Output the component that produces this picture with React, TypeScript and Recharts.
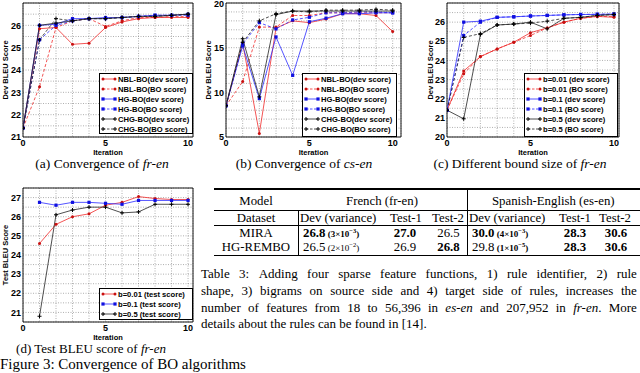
import React from 'react';
import { LineChart, Line, XAxis, YAxis, CartesianGrid, ReferenceArea, Legend } from 'recharts';

const iterations = [0, 1, 2, 3, 4, 5, 6, 7, 8, 9, 10];
const testIterations = [1, 2, 3, 4, 5, 6, 7, 8, 9, 10];
const xGrid = [0, 1, 2, 3, 4, 5, 6, 7, 8, 9, 10];
const xLabels = [0, 5, 10];

// (a) convergence of fr-en
const aNblDev = [21.4, 25.85, 25.9, 25.15, 25.2, 25.9, 26.15, 26.3, 26.35, 26.35, 26.35];
const aNblBo = [21.4, 23.25, 25.9, 26.2, 26.3, 25.95, 26.2, 26.35, 26.35, 26.4, 26.4];
const aHgDev = [21.4, 26.0, 26.05, 26.3, 26.3, 26.35, 26.35, 26.4, 26.45, 26.45, 26.5];
const aHgBo = [21.4, 25.35, 26.0, 26.2, 26.3, 26.3, 26.35, 26.4, 26.45, 26.45, 26.45];
const aChgDev = [21.4, 26.0, 26.1, 26.2, 26.3, 26.3, 26.35, 26.4, 26.4, 26.45, 26.5];
const aChgBo = [21.4, 25.35, 26.3, 26.2, 26.3, 26.3, 26.35, 26.4, 26.4, 26.45, 26.5];
const aYGrid = [21, 21.5, 22, 22.5, 23, 23.5, 24, 24.5, 25, 25.5, 26, 26.5, 27];
const aYLabels = [21, 22, 23, 24, 25, 26];

// (b) convergence of cs-en
const bNblDev = [8.5, 15.5, 5.4, 17.2, 18.0, 17.8, 18.2, 18.8, 18.8, 18.6, 16.8];
const bNblBo = [8.5, 11.2, 17.3, 17.3, 18.6, 18.6, 18.9, 18.9, 18.9, 18.9, 18.9];
const bHgDev = [8.5, 15.2, 9.3, 16.2, 11.9, 17.9, 18.3, 18.8, 18.8, 18.9, 18.9];
const bHgBo = [8.5, 15.4, 17.8, 17.1, 18.1, 18.4, 18.9, 18.9, 19.0, 19.0, 18.9];
const bChgDev = [8.5, 16.0, 9.5, 18.7, 19.1, 19.1, 19.1, 19.1, 19.1, 19.1, 19.1];
const bChgBo = [8.5, 15.6, 18.0, 18.8, 19.1, 19.0, 19.2, 19.2, 19.2, 19.3, 19.2];
const bYGrid = [5, 6, 7, 8, 9, 10, 11, 12, 13, 14, 15, 16, 17, 18, 19, 20];
const bYLabels = [5, 10, 15, 20];

// (c) different bound size of fr-en
const cB001Dev = [21.4, 23.45, 24.2, 24.6, 24.95, 25.45, 25.7, 26.0, 26.2, 26.3, 26.25];
const cB001Bo = [21.4, 23.3, 24.2, 24.6, 24.95, 25.3, 25.7, 26.0, 26.2, 26.3, 26.3];
const cB01Dev = [21.4, 26.0, 26.05, 26.25, 26.28, 26.32, 26.35, 26.38, 26.4, 26.4, 26.42];
const cB01Bo = [21.4, 25.3, 26.0, 26.25, 26.28, 26.32, 26.35, 26.38, 26.4, 26.42, 26.42];
const cB05Dev = [21.4, 20.95, 25.35, 25.85, 25.9, 26.0, 25.65, 26.2, 26.25, 26.35, 26.4];
const cB05Bo = [21.4, 25.2, 25.4, 25.85, 25.9, 25.95, 26.05, 26.2, 26.25, 26.35, 26.4];
const cYGrid = [20, 20.5, 21, 21.5, 22, 22.5, 23, 23.5, 24, 24.5, 25, 25.5, 26, 26.5, 27];
const cYLabels = [20, 21, 22, 23, 24, 25, 26];

// (d) test BLEU of fr-en
const dB001 = [24.6, 25.6, 26.0, 26.15, 26.6, 26.75, 27.05, 26.95, 26.9, 26.9];
const dB01 = [26.75, 26.6, 26.75, 26.75, 26.7, 26.65, 26.85, 26.85, 26.85, 26.85];
const dB05 = [20.8, 26.1, 26.35, 26.5, 26.5, 26.2, 26.25, 26.65, 26.65, 26.65];
const dYGrid = [20.5, 21, 21.5, 22, 22.5, 23, 23.5, 24, 24.5, 25, 25.5, 26, 26.5, 27, 27.5];
const dYLabels = [21, 22, 23, 24, 25, 26, 27];

// table 3
const tModels = ['MIRA', 'HG-REMBO'];
const tFrDev = ['26.8', '26.5'];
const tFrVar = [['3', '−3'], ['2', '−2']];
const tFrTest1 = ['27.0', '26.9'];
const tFrTest2 = ['26.5', '26.8'];
const tEsDev = ['30.0', '29.8'];
const tEsVar = [['4', '−3'], ['1', '−5']];
const tEsTest1 = ['28.3', '28.3'];
const tEsTest2 = ['30.6', '30.6'];
// bold flags: frDev, frVar, frT1, frT2, esDev, esVar, esT1, esT2
const tBold = [
  [true, true, true, false, true, true, true, true],
  [false, false, false, true, false, true, true, true],
];

const RED = '#f02a2a';
const BLUE = '#2a2aff';
const BLACK = '#222';

type Mark = 'circle' | 'square' | 'plus';
type Series = { key: string; name: string; values: number[]; color: string; dash?: boolean; mark: Mark };

const markColor = (c: string) => (c === RED ? '#c81010' : c === BLUE ? '#1010e0' : '#000');

function marker(mark: Mark, cx: number, cy: number, color: string, key?: any) {
  const c = markColor(color);
  if (mark === 'circle') return <circle key={key} cx={cx} cy={cy} r={1.5} fill={c} />;
  if (mark === 'square') return <rect key={key} x={cx - 1.6} y={cy - 1.6} width={3.2} height={3.2} fill={c} />;
  return <path key={key} d={`M${cx - 2},${cy}h4M${cx},${cy - 2}v4`} stroke={c} strokeWidth={1} />;
}

const seriesA: Series[] = [
  { key: 'nblDev', name: 'NBL-BO(dev score)', values: aNblDev, color: RED, mark: 'circle' },
  { key: 'nblBo', name: 'NBL-BO(BO score)', values: aNblBo, color: RED, dash: true, mark: 'circle' },
  { key: 'hgDev', name: 'HG-BO(dev score)', values: aHgDev, color: BLUE, mark: 'square' },
  { key: 'hgBo', name: 'HG-BO(BO score)', values: aHgBo, color: BLUE, dash: true, mark: 'square' },
  { key: 'chgDev', name: 'CHG-BO(dev score)', values: aChgDev, color: BLACK, mark: 'plus' },
  { key: 'chgBo', name: 'CHG-BO(BO score)', values: aChgBo, color: BLACK, dash: true, mark: 'plus' },
];
const seriesB: Series[] = [
  { key: 'nblDev', name: 'NBL-BO(dev score)', values: bNblDev, color: RED, mark: 'circle' },
  { key: 'nblBo', name: 'NBL-BO(BO score)', values: bNblBo, color: RED, dash: true, mark: 'circle' },
  { key: 'hgDev', name: 'HG-BO(dev score)', values: bHgDev, color: BLUE, mark: 'square' },
  { key: 'hgBo', name: 'HG-BO(BO score)', values: bHgBo, color: BLUE, dash: true, mark: 'square' },
  { key: 'chgDev', name: 'CHG-BO(dev score)', values: bChgDev, color: BLACK, mark: 'plus' },
  { key: 'chgBo', name: 'CHG-BO(BO score)', values: bChgBo, color: BLACK, dash: true, mark: 'plus' },
];
const seriesC: Series[] = [
  { key: 'b001Dev', name: 'b=0.01 (dev score)', values: cB001Dev, color: RED, mark: 'circle' },
  { key: 'b001Bo', name: 'b=0.01 (BO score)', values: cB001Bo, color: RED, dash: true, mark: 'circle' },
  { key: 'b01Dev', name: 'b=0.1 (dev score)', values: cB01Dev, color: BLUE, mark: 'square' },
  { key: 'b01Bo', name: 'b=0.1 (BO score)', values: cB01Bo, color: BLUE, dash: true, mark: 'square' },
  { key: 'b05Dev', name: 'b=0.5 (dev score)', values: cB05Dev, color: BLACK, mark: 'plus' },
  { key: 'b05Bo', name: 'b=0.5 (BO score)', values: cB05Bo, color: BLACK, dash: true, mark: 'plus' },
];
const seriesD: Series[] = [
  { key: 'b001', name: 'b=0.01 (test score)', values: dB001, color: RED, mark: 'circle' },
  { key: 'b01', name: 'b=0.1 (test score)', values: dB01, color: BLUE, mark: 'square' },
  { key: 'b05', name: 'b=0.5 (test score)', values: dB05, color: BLACK, mark: 'plus' },
];

const sans = 'Liberation Sans, Arial, sans-serif';
const titleStyle = { fontSize: 7.5, fontWeight: 700, fontFamily: sans, fill: '#000' };

// y tick label, kept inside the chart at the very top
function YTick(props: any) {
  const { x, y, payload, labels } = props;
  if (!labels.includes(payload.value)) return <g />;
  return (
    <text x={x} y={Math.max(y, 3.5)} dy={3.2} textAnchor="end" fontSize={9} fontWeight={700} fontFamily={sans} fill="#000">
      {payload.value}
    </text>
  );
}

function XTick(props: any) {
  const { x, y, payload } = props;
  if (!xLabels.includes(payload.value)) return <g />;
  return (
    <text x={x} y={y} dy={6.5} textAnchor="middle" fontSize={9} fontWeight={700} fontFamily={sans} fill="#000">
      {payload.value}
    </text>
  );
}

function LegendBox({ series }: { series: Series[] }) {
  return (
    <div style={{ border: '1px solid #000', background: '#fff', boxSizing: 'border-box', height: '100%', paddingLeft: 1, overflow: 'hidden' }}>
      {series.map((s) => (
        <div key={s.key} style={{ display: 'flex', alignItems: 'center', height: 10 }}>
          <svg width={16} height={10} style={{ flex: 'none' }}>
            <line x1={2} x2={14} y1={5} y2={5} stroke={s.color} strokeWidth={0.8} strokeDasharray={s.dash ? '2.5 1.5' : undefined} />
            {marker(s.mark, 2, 5, s.color)}
            {marker(s.mark, 14, 5, s.color)}
          </svg>
          <span style={{ fontSize: 7.6, fontWeight: 700, fontFamily: sans, whiteSpace: 'nowrap', marginLeft: 1 }}>
            {s.name}
          </span>
        </div>
      ))}
    </div>
  );
}

type PanelProps = {
  left: number; top: number; width: number; right: number;
  xs: number[]; series: Series[]; xMax: number; yMin: number; yMax: number;
  yGrid: number[]; yLabels: number[]; yTitle: string; titleOffset: number;
  lg: { x: number; y: number; w: number; h: number };
};

function Panel(p: PanelProps) {
  const rows = p.xs.map((it, i) => {
    const r: Record<string, number> = { it };
    p.series.forEach((s) => { r[s.key] = s.values[i]; });
    return r;
  });
  return (
    <div style={{ position: 'absolute', left: p.left, top: p.top, width: p.width, height: 160 }}>
      <LineChart width={p.width} height={160} data={rows} margin={{ top: 3, right: p.right, bottom: 0, left: 0 }}>
        <CartesianGrid stroke="#7a7a7a" strokeDasharray="1 1.5" strokeWidth={0.6} />
        <XAxis
          type="number" dataKey="it" domain={[0, p.xMax]} ticks={xGrid} interval={0} allowDataOverflow
          tickLine={false} axisLine={false} tickSize={0} tickMargin={2} height={23}
          tick={<XTick />}
          label={{ value: 'Iteration', position: 'insideBottom', offset: 5, style: titleStyle }}
        />
        <YAxis
          type="number" domain={[p.yMin, p.yMax]} ticks={p.yGrid} interval={0} allowDataOverflow width={23}
          tickLine={false} axisLine={false} tickSize={0} tickMargin={2}
          tick={<YTick labels={p.yLabels} />}
          label={{ value: p.yTitle, angle: -90, position: 'insideLeft', offset: p.titleOffset, style: { ...titleStyle, textAnchor: 'middle' } }}
        />
        <ReferenceArea x1={0} x2={p.xMax} y1={p.yMin} y2={p.yMax} fill="none" stroke="#000" strokeWidth={0.9} />
        {p.series.map((s) => (
          <Line
            key={s.key} type="linear" dataKey={s.key} name={s.name} stroke={s.color} strokeWidth={0.8}
            strokeDasharray={s.dash ? '3 2' : undefined}
            dot={(d: any) => marker(s.mark, d.cx, d.cy, s.color, `${s.key}-${d.index}`)}
            activeDot={false} isAnimationActive={false}
          />
        ))}
        <Legend
          layout="vertical" align="center" verticalAlign="middle"
          wrapperStyle={{ left: p.lg.x, top: p.lg.y, width: p.lg.w, height: p.lg.h }}
          content={() => <LegendBox series={p.series} />}
        />
      </LineChart>
    </div>
  );
}

const serif = 'Liberation Serif, Times New Roman, serif';

function Caption({ cx, cy, size, children }: { cx: number; cy: number; size: number; children: React.ReactNode }) {
  return (
    <div style={{ position: 'absolute', left: cx - 120, width: 240, top: cy - 6, height: 12, lineHeight: '12px', textAlign: 'center', fontFamily: serif, fontSize: size, whiteSpace: 'nowrap' }}>
      {children}
    </div>
  );
}

function Cell({ x, y, align = 'center', bold, children }: { x: number; y: number; align?: 'center' | 'left'; bold?: boolean; children: React.ReactNode }) {
  const pos = align === 'center' ? { left: x - 60, width: 120, textAlign: 'center' as const } : { left: x };
  return (
    <div style={{ position: 'absolute', top: y - 6, lineHeight: '12px', fontFamily: serif, fontSize: 12.8, fontWeight: bold ? 700 : 400, whiteSpace: 'nowrap', ...pos }}>
      {children}
    </div>
  );
}

function Variance({ v, bold }: { v: string[]; bold: boolean }) {
  return (
    <span style={{ fontSize: 9, fontWeight: bold ? 700 : 400 }}>
      {' '}({v[0]}×10<sup style={{ fontSize: 6.5, verticalAlign: 4, lineHeight: 0 }}>{v[1]}</sup>)
    </span>
  );
}

function Rule({ x, y, w, h }: { x: number; y: number; w: number; h: number }) {
  return <div style={{ position: 'absolute', left: x, top: y, width: w, height: h, background: '#000' }} />;
}

function JLine({ y, children }: { y: number; children: React.ReactNode[] }) {
  return (
    <div style={{ position: 'absolute', left: 201, width: 436, top: y - 7, lineHeight: '14px', display: 'flex', justifyContent: 'space-between', fontFamily: serif, fontSize: 13, whiteSpace: 'nowrap' }}>
      {children.map((c, i) => <span key={i}>{c}</span>)}
    </div>
  );
}

const words = (s: string) => s.split(' ');

export default function App() {
  const rowY = [232.5, 246.5];
  return (
    <div style={{ position: 'absolute', left: 0, top: 0, width: 640, height: 373, background: '#fff', overflow: 'hidden' }}>
      <Panel left={0} top={0} width={196} right={3} xs={iterations} series={seriesA} xMax={10.3} yMin={21} yMax={27}
        yGrid={aYGrid} yLabels={aYLabels} yTitle="Dev BLEU Score" titleOffset={5} lg={{ x: 99, y: 73, w: 94, h: 61 }} />
      <Panel left={203} top={0} width={200} right={2} xs={iterations} series={seriesB} xMax={10.5} yMin={5} yMax={20}
        yGrid={bYGrid} yLabels={bYLabels} yTitle="Dev BLEU Score" titleOffset={5} lg={{ x: 99, y: 73, w: 95, h: 64 }} />
      <Panel left={424} top={0} width={200} right={5} xs={iterations} series={seriesC} xMax={10.3} yMin={20} yMax={27}
        yGrid={cYGrid} yLabels={cYLabels} yTitle="Dev BLEU Score" titleOffset={6} lg={{ x: 100, y: 73, w: 94, h: 64 }} />
      <Panel left={0} top={185} width={196} right={3} xs={testIterations} series={seriesD} xMax={10.3} yMin={20.5} yMax={27.5}
        yGrid={dYGrid} yLabels={dYLabels} yTitle="Test BLEU Score" titleOffset={5} lg={{ x: 99, y: 103, w: 94, h: 32 }} />

      <Caption cx={102} cy={164} size={13.5}>(a) Convergence of <i>fr-en</i></Caption>
      <Caption cx={304} cy={164} size={13.5}>(b) Convergence of <i>cs-en</i></Caption>
      <Caption cx={520} cy={164} size={13.5}>(c) Different bound size of <i>fr-en</i></Caption>
      <Caption cx={91} cy={349} size={13}>(d) Test BLEU score of <i>fr-en</i></Caption>
      <div style={{ position: 'absolute', left: 0, top: 358, lineHeight: '13px', fontFamily: serif, fontSize: 15, whiteSpace: 'nowrap' }}>
        Figure 3: Convergence of BO algorithms
      </div>

      {/* Table 3 */}
      <Rule x={214} y={188} w={426} h={1.5} />
      <Rule x={214} y={210} w={426} h={0.8} />
      <Rule x={214} y={225} w={426} h={0.8} />
      <Rule x={214} y={254.5} w={426} h={1.5} />
      <Rule x={297.5} y={210} w={0.8} h={45} />
      <Rule x={467} y={189} w={0.8} h={66} />
      <Cell x={256} y={200.5}>Model</Cell>
      <Cell x={382} y={200.5}>French (fr-en)</Cell>
      <Cell x={552} y={200.5}>Spanish-English (es-en)</Cell>
      <Cell x={256} y={217.5}>Dataset</Cell>
      <Cell x={300} y={217.5} align="left">Dev (variance)</Cell>
      <Cell x={406} y={217.5}>Test-1</Cell>
      <Cell x={448} y={217.5}>Test-2</Cell>
      <Cell x={469} y={217.5} align="left">Dev (variance)</Cell>
      <Cell x={575} y={217.5}>Test-1</Cell>
      <Cell x={615} y={217.5}>Test-2</Cell>
      {tModels.map((m, i) => (
        <React.Fragment key={m}>
          <Cell x={256} y={rowY[i]}>{m}</Cell>
          <Cell x={303} y={rowY[i]} align="left">
            <b style={{ fontWeight: tBold[i][0] ? 700 : 400 }}>{tFrDev[i]}</b>
            <Variance v={tFrVar[i]} bold={tBold[i][1]} />
          </Cell>
          <Cell x={405} y={rowY[i]} bold={tBold[i][2]}>{tFrTest1[i]}</Cell>
          <Cell x={448.5} y={rowY[i]} bold={tBold[i][3]}>{tFrTest2[i]}</Cell>
          <Cell x={472} y={rowY[i]} align="left">
            <b style={{ fontWeight: tBold[i][4] ? 700 : 400 }}>{tEsDev[i]}</b>
            <Variance v={tEsVar[i]} bold={tBold[i][5]} />
          </Cell>
          <Cell x={575} y={rowY[i]} bold={tBold[i][6]}>{tEsTest1[i]}</Cell>
          <Cell x={616} y={rowY[i]} bold={tBold[i][7]}>{tEsTest2[i]}</Cell>
        </React.Fragment>
      ))}

      <JLine y={274}>{words('Table 3: Adding four sparse feature functions, 1) rule identifier, 2) rule')}</JLine>
      <JLine y={291}>{words('shape, 3) bigrams on source side and 4) target side of rules, increases the')}</JLine>
      <JLine y={307.5}>
        {[...words('number of features from 18 to 56,396 in'), <i>es-en</i>, 'and', '207,952', 'in', <span><i>fr-en</i>.</span>, 'More']}
      </JLine>
      <div style={{ position: 'absolute', left: 201, top: 317, lineHeight: '14px', fontFamily: serif, fontSize: 13, whiteSpace: 'nowrap' }}>
        details about the rules can be found in [14].
      </div>
    </div>
  );
}
